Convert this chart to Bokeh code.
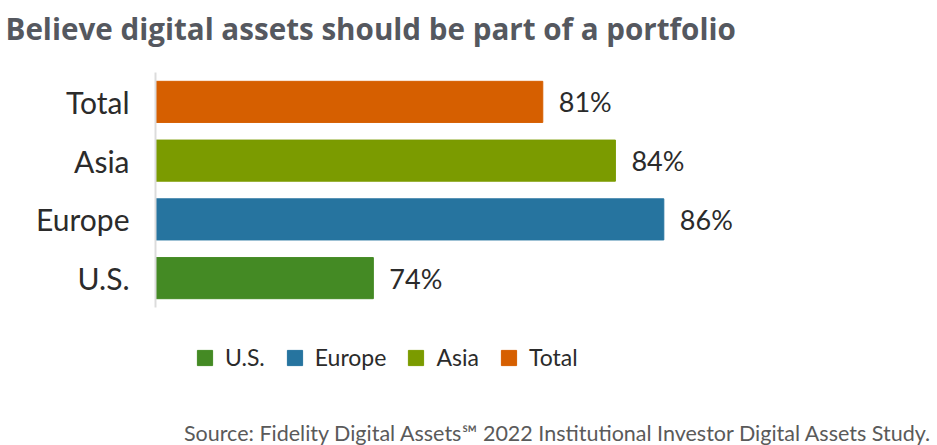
from bokeh.plotting import figure
from bokeh.layouts import column
from bokeh.models import ColumnDataSource, FactorRange, Range1d, Legend, LegendItem, Label, Title
from bokeh.core.properties import value
from bokeh.embed import file_html
from bokeh.resources import INLINE

categories = ["U.S.", "Europe", "Asia", "Total"]
values = [74, 86, 84, 81]
labels = ["74%", "86%", "84%", "81%"]
colors = ["#448a24", "#26749f", "#7b9b00", "#d65f00"]
title_text = "Believe digital assets should be part of a portfolio"
source_text = "Source: Fidelity Digital Assets\u2120 2022 Institutional Investor Digital Assets Study."

x_start, x_end = 65, 97.1
FONT = "Lato"
W = 932
LEFT = 155


def strip(h):
    f = figure(width=W, height=h, output_backend="svg", toolbar_location=None, title=None,
               x_range=Range1d(0, W - LEFT), y_range=Range1d(0, h),
               x_axis_location=None, y_axis_location=None,
               min_border_left=LEFT, min_border_right=0, min_border_top=0, min_border_bottom=0)
    f.outline_line_color = None
    f.xgrid.grid_line_color = None
    f.ygrid.grid_line_color = None
    return f


# ---- title strip ----
t = strip(72)
t.title = Title(text=title_text, align="left", offset=-150, text_font="Open Sans",
                text_font_size="29.6px", text_font_style="bold", text_color="#55585f")

# ---- main chart ----
p = figure(frame_width=W - LEFT, frame_height=235, output_backend="svg", toolbar_location=None,
           title=None,
           y_range=FactorRange(factors=categories), x_range=Range1d(x_start, x_end),
           min_border_left=LEFT, min_border_right=0, min_border_top=0, min_border_bottom=13)
p.outline_line_color = None
p.xaxis.visible = False
p.xgrid.grid_line_color = None
p.ygrid.grid_line_color = None

r = p.hbar(y="cat", left=x_start, right="val", height=0.7, color="col", source=src
           if False else ColumnDataSource(dict(cat=categories, val=values, lab=labels, col=colors)))
src = r.data_source
p.text(x="val", y="cat", text="lab", source=src, x_offset=16, text_baseline="middle",
       text_font=value(FONT), text_font_size="27px", text_color="#2b2b2b")

ax = p.yaxis[0]
ax.axis_line_color = "#dcdcdc"
ax.axis_line_width = 2
ax.major_tick_line_color = None
ax.minor_tick_line_color = None
ax.major_label_standoff = 20
ax.major_label_text_font = FONT
ax.major_label_text_font_size = "30px"
ax.major_label_text_color = "#2b2b2b"

# ---- legend + source strip ----
q = strip(125)
r2 = q.vbar(x="val", top="val", width=1, color="col", source=src, visible=False)

items = [LegendItem(label=c, renderers=[r2], index=i) for i, c in enumerate(categories)]
leg = Legend(items=items, orientation="horizontal", location=(40, 74),
             border_line_color=None, background_fill_alpha=0,
             inactive_fill_alpha=0,
             label_text_font=FONT, label_text_font_size="23px", label_text_color="#2b2b2b",
             glyph_width=19, glyph_height=19, label_standoff=11, spacing=20,
             padding=0, margin=0)
q.add_layout(leg)
q.add_layout(Label(x=W - LEFT, y=13, text=source_text, text_align="right",
                   text_baseline="middle", text_font=FONT, text_font_size="21.5px",
                   text_color="#5a5a5a"))

layout = column(t, p, q, spacing=0)
open("out.html", "w").write(file_html(layout, INLINE))
